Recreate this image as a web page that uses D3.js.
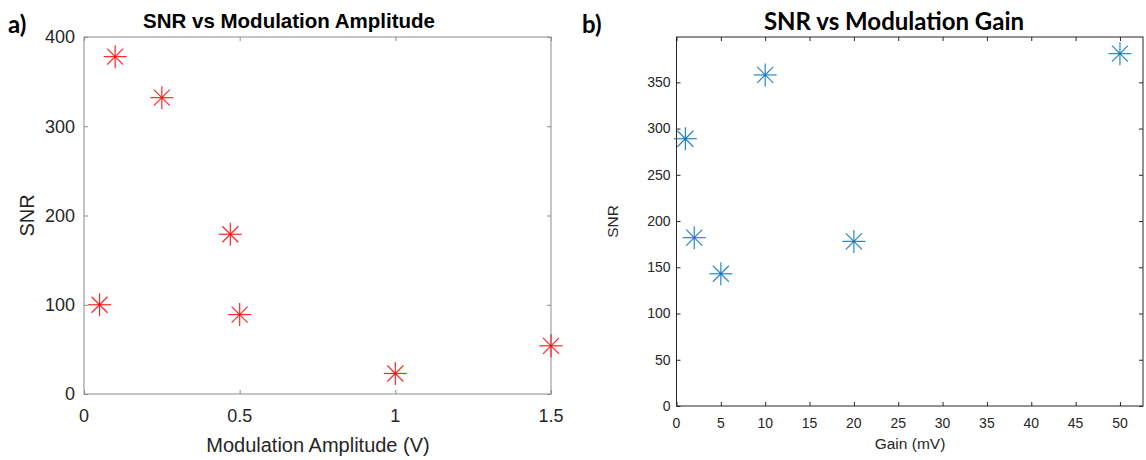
<!DOCTYPE html>
<html>
<head>
<meta charset="utf-8">
<script src="https://cdn.jsdelivr.net/npm/d3@7"></script>
<style>
  body { margin: 0; background: #fff; }
  svg { display: block; }
</style>
</head>
<body>
<div id="container"></div>
<script>
// panel a) data
const ampValues = [0.05, 0.1, 0.25, 0.47, 0.5, 1.0, 1.5];
const ampSNR = [100, 378, 332, 179, 89, 23, 54];
const ampTicksX = [0, 0.5, 1, 1.5];
const ampTicksY = [0, 100, 200, 300, 400];

// panel b) data
const gainValues = [1, 2, 5, 10, 20, 50];
const gainSNR = [289, 182, 143, 358, 178, 381];
const gainTicksX = [0, 5, 10, 15, 20, 25, 30, 35, 40, 45, 50];
const gainTicksY = [0, 50, 100, 150, 200, 250, 300, 350];

const width = 1146, height = 460;

const svg = d3.select('#container')
    .append('svg')
    .attr('width', width)
    .attr('height', height);

// asterisk marker like matlab '*'
function star(g, r, d) {
    g.append('line').attr('x1', -r).attr('x2', r).attr('y1', 0).attr('y2', 0);
    g.append('line').attr('x1', 0).attr('x2', 0).attr('y1', -r).attr('y2', r);
    g.append('line').attr('x1', -d).attr('x2', d).attr('y1', -d).attr('y2', d);
    g.append('line').attr('x1', -d).attr('x2', d).attr('y1', d).attr('y2', -d);
}

function panel(o) {
    const x = d3.scaleLinear().domain(o.xDomain).range([o.left, o.right]);
    const y = d3.scaleLinear().domain(o.yDomain).range([o.bottom, o.top]);
    const g = svg.append('g');

    // box
    g.append('rect')
        .attr('x', o.left).attr('y', o.top)
        .attr('width', o.right - o.left).attr('height', o.bottom - o.top)
        .attr('fill', 'none').attr('stroke', o.axisColor).attr('stroke-width', 1);

    // inward ticks on all four sides
    const tk = o.tickLen;
    g.append('g').attr('transform', `translate(0,${o.bottom})`)
        .call(d3.axisBottom(x).tickValues(o.ticksX).tickSize(-tk).tickFormat(''))
        .call(a => a.select('.domain').remove());
    g.append('g').attr('transform', `translate(0,${o.top})`)
        .call(d3.axisTop(x).tickValues(o.ticksX).tickSize(-tk).tickFormat(''))
        .call(a => a.select('.domain').remove());
    g.append('g').attr('transform', `translate(${o.left},0)`)
        .call(d3.axisLeft(y).tickValues(o.ticksY).tickSize(-tk).tickFormat(''))
        .call(a => a.select('.domain').remove());
    g.append('g').attr('transform', `translate(${o.right},0)`)
        .call(d3.axisRight(y).tickValues(o.ticksY).tickSize(-tk).tickFormat(''))
        .call(a => a.select('.domain').remove());
    g.selectAll('.tick line').attr('stroke', o.axisColor);

    // tick labels
    g.append('g').selectAll('text').data(o.ticksX).join('text')
        .attr('x', d => x(d)).attr('y', o.bottom + o.xLabelDy)
        .attr('text-anchor', 'middle')
        .attr('font-family', 'Liberation Sans, Arial, sans-serif')
        .attr('font-size', o.tickFont).attr('fill', '#262626')
        .text(d => d);
    g.append('g').selectAll('text').data(o.ticksY).join('text')
        .attr('x', o.left - o.yLabelDx).attr('y', d => y(d))
        .attr('dy', '0.35em')
        .attr('text-anchor', 'end')
        .attr('font-family', 'Liberation Sans, Arial, sans-serif')
        .attr('font-size', o.tickFont).attr('fill', '#262626')
        .text(d => d);

    // axis titles
    g.append('text')
        .attr('x', o.xTitleX).attr('y', o.xTitleY)
        .attr('text-anchor', 'middle')
        .attr('font-family', 'Liberation Sans, Arial, sans-serif')
        .attr('font-size', o.titleFont).attr('fill', '#262626')
        .text(o.xTitle);
    g.append('text')
        .attr('transform', `translate(${o.yTitleX},${(o.top + o.bottom) / 2}) rotate(-90)`)
        .attr('text-anchor', 'middle')
        .attr('font-family', 'Liberation Sans, Arial, sans-serif')
        .attr('font-size', o.titleFont).attr('fill', '#262626')
        .text(o.yTitle);

    // markers
    g.append('g')
        .attr('stroke', o.color).attr('stroke-width', 1.2).attr('stroke-opacity', 0.85)
        .selectAll('g').data(o.xs).join('g')
        .attr('transform', (d, i) => `translate(${x(d)},${y(o.ys[i])})`)
        .each(function () { star(d3.select(this), 11.5, 8); });
}

panel({
    xDomain: [0, 1.5], yDomain: [0, 400],
    left: 84, right: 551, top: 37, bottom: 394,
    ticksX: ampTicksX, ticksY: ampTicksY,
    xs: ampValues, ys: ampSNR, color: '#ff0000',
    axisColor: '#8c8c8c', tickLen: 4,
    tickFont: 18, xLabelDy: 28, yLabelDx: 9,
    titleFont: 20, xTitle: 'Modulation Amplitude (V)', xTitleX: 318, xTitleY: 452,
    yTitle: 'SNR', yTitleX: 34
});

panel({
    xDomain: [0, 52.6], yDomain: [0, 399],
    left: 676.5, right: 1143, top: 37, bottom: 406,
    ticksX: gainTicksX, ticksY: gainTicksY,
    xs: gainValues, ys: gainSNR, color: '#0072bd',
    axisColor: '#262626', tickLen: 4,
    tickFont: 14, xLabelDy: 22, yLabelDx: 6,
    titleFont: 15.5, xTitle: 'Gain (mV)', xTitleX: 910, xTitleY: 449,
    yTitle: 'SNR', yTitleX: 618
});

// panel titles and letters
svg.append('text').attr('x', 289).attr('y', 28).attr('text-anchor', 'middle')
    .attr('font-family', 'Liberation Sans, Arial, sans-serif').attr('font-weight', 'bold')
    .attr('font-size', 20.5).attr('fill', '#000')
    .text('SNR vs Modulation Amplitude');
svg.append('text').attr('x', 894).attr('y', 30).attr('text-anchor', 'middle')
    .attr('font-family', 'Lato, Open Sans, sans-serif').attr('font-weight', 'bold')
    .attr('font-size', 24).attr('fill', '#000')
    .text('SNR vs Modulation Gain');
svg.append('text').attr('x', 8).attr('y', 33)
    .attr('font-family', 'Lato, Open Sans, sans-serif').attr('font-weight', 'bold')
    .attr('font-size', 24).attr('fill', '#000')
    .text('a)');
svg.append('text').attr('x', 582).attr('y', 33)
    .attr('font-family', 'Lato, Open Sans, sans-serif').attr('font-weight', 'bold')
    .attr('font-size', 24).attr('fill', '#000')
    .text('b)');
</script>
</body>
</html>
